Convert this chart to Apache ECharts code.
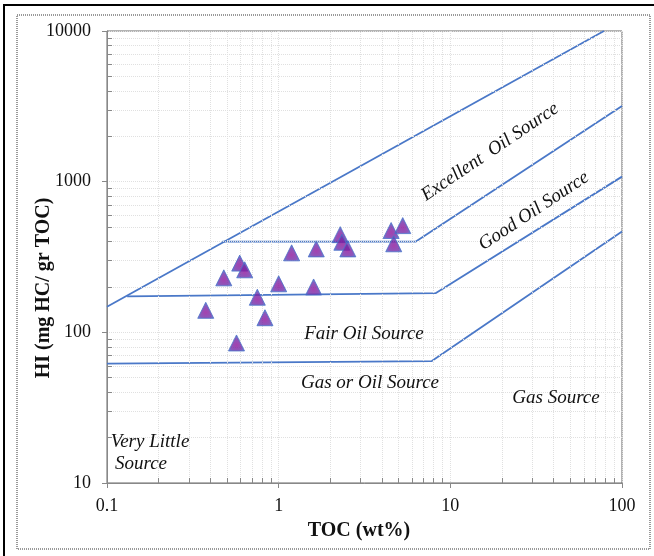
<!DOCTYPE html>
<html>
<head>
<meta charset="utf-8">
<script src="https://cdn.jsdelivr.net/npm/echarts@6/dist/echarts.min.js"></script>
<style>html,body{margin:0;padding:0;background:#fff;}#c{width:654px;height:556px;}</style>
</head>
<body>
<div id="c"></div>
<script>
// ---- data ----
var tocValues = [0.376, 0.479, 0.593, 0.634, 0.568, 0.751, 0.832, 1.0, 1.19, 1.656, 1.598, 2.284, 2.334, 2.529, 4.52, 5.28, 4.68];
var hiValues  = [140,   230,   288,   260,   85,    171,   125,   210, 337,  358,   200,   445,   396,   358,   474,  511,  387];

var lineExcellentTop = [[0.1, 148], [78.5, 10000]];
var lineExcellentGood = [[0.47, 400], [6.3, 400], [100, 3180]];
var lineGoodFair = [[0.131, 173], [8.2, 182], [100, 1080]];
var lineFairGas = [[0.1, 62], [7.8, 64.5], [100, 467]];

var xMinorGrid = [0.2,0.3,0.4,0.5,0.6,0.7,0.8,0.9,2,3,4,5,6,7,8,9,20,30,40,50,60,70,80,90];
var yMinorGrid = [20,30,40,50,60,70,80,90,200,300,400,500,600,700,800,900,2000,3000,4000,5000,6000,7000,8000,9000];

var xTickLabels = ['0.1', '1', '10', '100'];
var yTickLabels = ['10', '100', '1000', '10000'];

var regionLabels = ['Excellent  Oil Source', 'Good Oil Source', 'Fair Oil Source', 'Gas or Oil Source', 'Gas Source', 'Very Little', 'Source'];
var xTitle = 'TOC (wt%)';
var yTitle = 'HI (mg HC/ gr TOC)';

// ---- build ----
var chart = echarts.init(document.getElementById('c'));
var points = tocValues.map(function (v, i) { return [v, hiValues[i]]; });

var gridLineStyle = { color: '#e0e0e0', type: 'dotted', width: 1 };
var gridMarks = [];
xMinorGrid.forEach(function (v) { gridMarks.push({ xAxis: v }); });
yMinorGrid.forEach(function (v) { gridMarks.push({ yAxis: v }); });

var tickMarks = [];
xMinorGrid.forEach(function (v) { tickMarks.push([{ coord: [v, 10] }, { coord: [v, 10 * Math.pow(10, 5 / 151)] }]); });
yMinorGrid.forEach(function (v) { tickMarks.push([{ coord: [0.1, v] }, { coord: [0.1 * Math.pow(10, 5 / 172), v] }]); });

var blue = '#4a78c8';
function boundary(d) {
  return { type: 'line', data: d, symbol: 'none', silent: true, z: 3,
    lineStyle: { color: blue, width: 1.8 }, animation: false };
}

var serif = '"Liberation Serif", "Times New Roman", serif';
function label(txt, x, y, rotDeg) {
  return { type: 'text', x: x, y: y, rotation: (rotDeg || 0) * Math.PI / 180, z: 10,
    style: { text: txt, x: 0, y: 0, fill: '#111', font: 'italic 19px ' + serif,
      textAlign: 'center', textVerticalAlign: 'middle' } };
}

var option = {
  animation: false,
  backgroundColor: '#fff',
  grid: { left: 107, right: 32, top: 31, bottom: 73, show: true, borderColor: '#666', borderWidth: 1 },
  xAxis: {
    type: 'log', logBase: 10, min: 0.1, max: 100,
    axisLine: { lineStyle: { color: '#888', width: 1 } },
    axisTick: { show: true, length: 5, lineStyle: { color: '#888' } },
    axisLabel: { margin: 14, color: '#111', fontFamily: serif, fontSize: 18,
      formatter: function (v) { var i = Math.round(Math.log10(v)) + 1; return xTickLabels[i] || ''; } },
    splitLine: { show: true, lineStyle: gridLineStyle }
  },
  yAxis: {
    type: 'log', logBase: 10, min: 10, max: 10000,
    axisLine: { lineStyle: { color: '#888', width: 1 } },
    axisTick: { show: true, length: 5, lineStyle: { color: '#888' } },
    axisLabel: { margin: 16, color: '#111', fontFamily: serif, fontSize: 18,
      formatter: function (v) { var i = Math.round(Math.log10(v)) - 1; return yTickLabels[i] || ''; } },
    splitLine: { show: true, lineStyle: gridLineStyle }
  },
  series: [
    { type: 'scatter', data: [], silent: true, z: 1,
      markLine: { silent: true, symbol: 'none', label: { show: false }, animation: false,
        lineStyle: gridLineStyle, data: gridMarks } },
    { type: 'scatter', data: [], silent: true, z: 2,
      markLine: { silent: true, symbol: 'none', label: { show: false }, animation: false,
        lineStyle: { color: '#888', type: 'solid', width: 1 }, data: tickMarks } },
    boundary(lineExcellentTop),
    boundary(lineExcellentGood),
    boundary(lineGoodFair),
    boundary(lineFairGas),
    { type: 'scatter', data: points, symbol: 'triangle', symbolSize: [16, 16], z: 5,
      itemStyle: {
        color: { type: 'radial', x: 0.5, y: 0.62, r: 0.6, colorStops: [
          { offset: 0, color: '#8e129a' }, { offset: 0.6, color: '#6d2faa' }, { offset: 1, color: '#3d66c8' } ] },
        borderColor: '#4a70c8', borderWidth: 1
      } }
  ],
  graphic: [
    { type: 'line', shape: { x1: 3, y1: 5, x2: 654, y2: 5 }, style: { stroke: '#000', lineWidth: 2 } },
    { type: 'line', shape: { x1: 4, y1: 5, x2: 4, y2: 556 }, style: { stroke: '#000', lineWidth: 2 } },
    { type: 'rect', shape: { x: 17, y: 15, width: 633, height: 534 }, style: { fill: 'none', stroke: '#999', lineWidth: 2, lineDash: [1, 1] } },
    label(regionLabels[0], 490, 152, 34),
    label(regionLabels[1], 534, 211, 33.5),
    label(regionLabels[2], 364, 334),
    label(regionLabels[3], 370, 383),
    label(regionLabels[4], 556, 398),
    label(regionLabels[5], 150, 442),
    label(regionLabels[6], 141, 464),
    { type: 'text', x: 359, y: 531, z: 10, style: { text: xTitle, x: 0, y: 0, fill: '#111',
      font: 'bold 20px ' + serif, textAlign: 'center', textVerticalAlign: 'middle' } },
    { type: 'text', x: 44, y: 288, rotation: Math.PI / 2, z: 10, style: { text: yTitle, x: 0, y: 0, fill: '#111',
      font: 'bold 20px ' + serif, textAlign: 'center', textVerticalAlign: 'middle' } }
  ]
};
chart.setOption(option);
</script>
</body>
</html>
